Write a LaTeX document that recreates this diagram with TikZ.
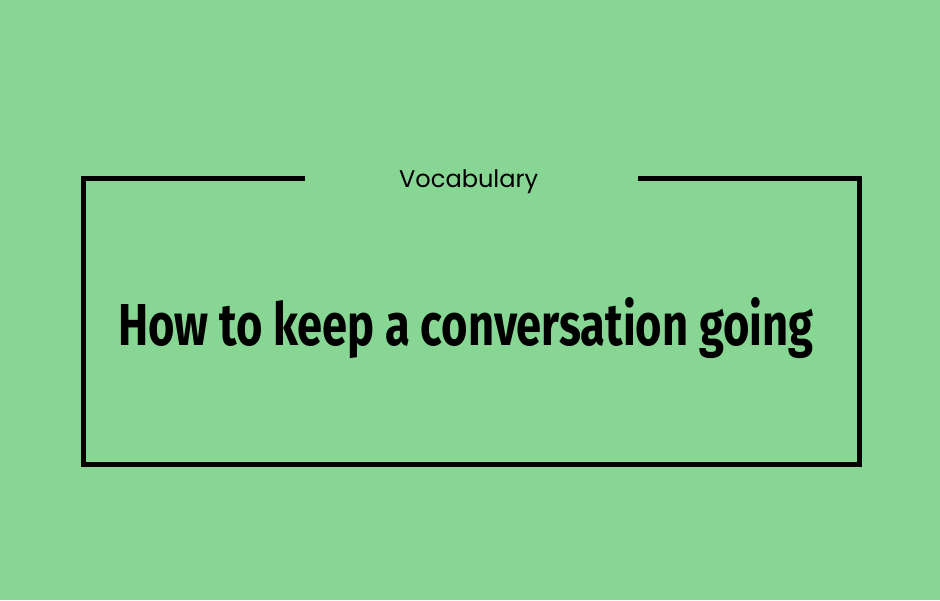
\documentclass[tikz,border=0pt]{standalone}
\usepackage{fontspec}
\setmainfont{Liberation Sans}
\newfontfamily\titlefont[FakeStretch=0.62]{Fira Sans}
\newfontfamily\subfont{Poppins}
\definecolor{bggreen}{RGB}{136,214,148}
\begin{document}
\begin{tikzpicture}[x=1pt,y=-1pt,
  frameline/.style={line width=5pt,black,line cap=butt,line join=miter}]
\fill[bggreen] (0,0) rectangle (940,600);
\useasboundingbox (0,0) rectangle (940,600);
\coordinate (tl) at (83.5,178);
\coordinate (gl) at (305,178);
\coordinate (gr) at (638,178);
\coordinate (tr) at (859.5,178);
\coordinate (br) at (859.5,464.5);
\coordinate (bl) at (83.5,464.5);
\draw[frameline] (gl) -- (tl) -- (bl) -- (br) -- (tr) -- (gr);
\node[anchor=base west,inner sep=0pt] (title) at (118,345)
  {\resizebox{695pt}{48pt}{\titlefont\bfseries How to keep a conversation going}};
\node[anchor=base west,inner sep=0pt] (voc) at (399,187)
  {\resizebox{139pt}{!}{\subfont Vocabulary}};
\end{tikzpicture}
\end{document}
